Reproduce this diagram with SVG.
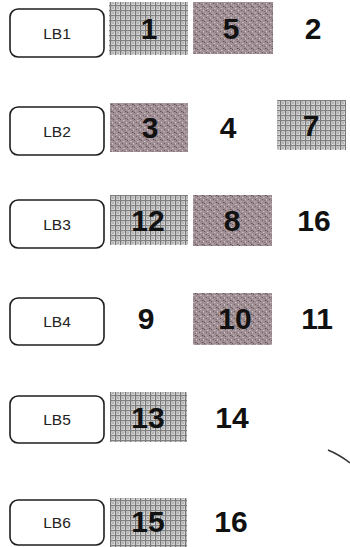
<svg xmlns="http://www.w3.org/2000/svg" width="350" height="547" viewBox="0 0 350 547">
<style>
.lb{fill:#fff;stroke:#1e1e1e;stroke-width:1.6}
.lbt{font-family:"Liberation Sans",Arial,sans-serif;font-size:15.5px;fill:#222;text-anchor:middle}
.num{font-family:"Liberation Sans",Arial,sans-serif;font-size:30px;font-weight:bold;fill:#111;text-anchor:middle}
.hx{fill:url(#hatch)}
.st{fill:url(#stip)}
</style>
<defs>
<pattern id="hatch" width="5" height="5" patternUnits="userSpaceOnUse">
<rect width="5" height="5" fill="#d6d6d6"/>
<rect x="0" y="0" width="1.2" height="5" fill="#767676"/>
<rect x="0" y="0" width="5" height="1.2" fill="#808080"/>
<path d="M2,2 L4,4 M4,2 L2,4" stroke="#a4a4a4" stroke-width="0.7"/>
</pattern>
<pattern id="stip" width="7" height="7" patternUnits="userSpaceOnUse">
<rect width="7" height="7" fill="#9f8e93"/>
<rect x="1" y="0" width="1" height="1" fill="#65585c"/>
<rect x="4" y="1" width="1.5" height="1" fill="#cdc1c4"/>
<rect x="0" y="3" width="1" height="1.5" fill="#d0c5c8"/>
<rect x="3" y="3" width="1" height="1" fill="#6b5c60"/>
<rect x="5.5" y="4" width="1" height="1" fill="#76676d"/>
<rect x="2" y="5.5" width="1.5" height="1" fill="#c6b9bc"/>
<rect x="6" y="6" width="1" height="1" fill="#5f5256"/>
<rect x="0" y="6" width="1" height="1" fill="#837277"/>
</pattern>
</defs>
<g id="connectors"/>
<g id="LB1"><rect class="lb" x="10" y="9" width="94" height="48" rx="8"/><text class="lbt" x="57" y="39">LB1</text></g>
<g id="LB2"><rect class="lb" x="10" y="107" width="94" height="48" rx="8"/><text class="lbt" x="57" y="137">LB2</text></g>
<g id="LB3"><rect class="lb" x="10" y="200" width="94" height="48" rx="8"/><text class="lbt" x="57" y="230">LB3</text></g>
<g id="LB4"><rect class="lb" x="10" y="298" width="94" height="47" rx="8"/><text class="lbt" x="57" y="327">LB4</text></g>
<g id="LB5"><rect class="lb" x="10" y="396" width="94" height="47" rx="8"/><text class="lbt" x="57" y="425">LB5</text></g>
<g id="LB6"><rect class="lb" x="10" y="500" width="94" height="45" rx="8"/><text class="lbt" x="57" y="528">LB6</text></g>
<g id="c1"><rect class="hx" x="109" y="2" width="79" height="53"/><text class="num" x="149" y="39">1</text></g>
<g id="c5"><rect class="st" x="193" y="2" width="80" height="52"/><text class="num" x="231" y="39">5</text></g>
<g id="c2"><text class="num" x="313" y="39">2</text></g>
<g id="c3"><rect class="st" x="110" y="103" width="78" height="49"/><text class="num" x="150" y="138">3</text></g>
<g id="c4"><text class="num" x="228" y="138">4</text></g>
<g id="c7"><rect class="hx" x="277" y="100" width="69" height="50"/><text class="num" x="311" y="136">7</text></g>
<g id="c12"><rect class="hx" x="110" y="195" width="78" height="50"/><text class="num" x="148" y="231">12</text></g>
<g id="c8"><rect class="st" x="193" y="195" width="79" height="51"/><text class="num" x="232" y="231">8</text></g>
<g id="c16a"><text class="num" x="314" y="231">16</text></g>
<g id="c9"><text class="num" x="146" y="329">9</text></g>
<g id="c10"><rect class="st" x="193" y="293" width="79" height="52"/><text class="num" x="235" y="329">10</text></g>
<g id="c11"><text class="num" x="317" y="329">11</text></g>
<g id="c13"><rect class="hx" x="110" y="392" width="77" height="50"/><text class="num" x="148" y="428">13</text></g>
<g id="c14"><text class="num" x="232" y="428">14</text></g>
<g id="c15"><rect class="hx" x="110" y="498" width="77" height="49"/><text class="num" x="148" y="532">15</text></g>
<g id="c16b"><text class="num" x="231" y="532">16</text></g>
<path id="mark" d="M328,450 Q340,455 350,463" fill="none" stroke="#333" stroke-width="1.5"/>
</svg>
